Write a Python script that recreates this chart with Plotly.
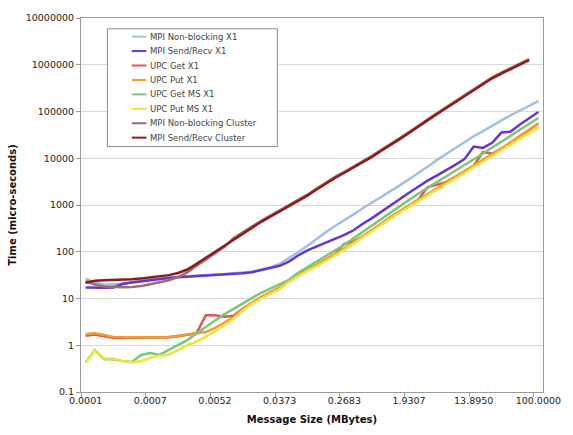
import plotly.graph_objects as go

# Message sizes (MBytes), 50 log-spaced categories
sizes = [0.0001, 0.0001, 0.0002, 0.0002, 0.0003, 0.0004, 0.0005, 0.0007, 0.0010, 0.0013,
         0.0017, 0.0022, 0.0029, 0.0039, 0.0052, 0.0069, 0.0091, 0.0121, 0.0160, 0.0212,
         0.0281, 0.0373, 0.0494, 0.0655, 0.0869, 0.1151, 0.1526, 0.2024, 0.2683, 0.3556,
         0.4715, 0.6251, 0.8286, 1.0985, 1.4563, 1.9307, 2.5595, 3.3932, 4.4984, 5.9636,
         7.9060, 10.4811, 13.8950, 18.4207, 24.4205, 32.3746, 42.9193, 56.8987, 75.4312, 100.0000]
label_idx = [0, 7, 14, 21, 28, 35, 42, 49]

mpi_nb_x1 = [26.9, 21.9, 20.0, 20.0, 20.9, 22.4, 24.0, 25.7, 26.9, 28.2,
             29.2, 29.9, 30.9, 31.6, 32.7, 33.5, 34.7, 35.5, 37.2, 41.7,
             46.8, 55.0, 72.4, 97.7, 135, 191, 263, 355, 468, 631,
             851, 1122, 1479, 1995, 2630, 3548, 4786, 6607, 9120, 12300,
             16600, 22390, 29510, 38020, 50120, 64570, 83180, 104700, 131800, 166000]
mpi_sr_x1 = [17.1, 16.9, 16.9, 17.2, 20.4, 22.1, 23.4, 25.1, 26.3, 27.5,
             28.5, 29.2, 29.9, 30.9, 31.6, 32.7, 33.9, 34.7, 36.3, 40.7,
             44.7, 50.1, 61.7, 83.2, 107, 129, 155, 186, 229, 288,
             398, 525, 724, 1000, 1349, 1820, 2455, 3311, 4266, 5495,
             7244, 9550, 17780, 16600, 21380, 35480, 37150, 52480, 72440, 97720]
upc_get_x1 = [1.60, 1.70, 1.55, 1.45, 1.43, 1.43, 1.43, 1.43, 1.45, 1.48,
              1.55, 1.70, 1.80, 4.37, 4.37, 4.07, 4.27, 6.03, 8.13, 10.7,
              13.5, 17.0, 24.5, 32.4, 41.7, 52.5, 67.6, 89.1, 148, 166,
              214, 288, 398, 550, 741, 977, 1288, 2399, 2692, 3090,
              3981, 5248, 6918, 13490, 12590, 15850, 21880, 29510, 40740, 55590]
upc_put_x1 = [1.75, 1.80, 1.66, 1.51, 1.48, 1.46, 1.46, 1.48, 1.46, 1.50,
              1.58, 1.72, 1.82, 1.91, 2.34, 3.09, 3.98, 5.89, 8.13, 10.7,
              13.5, 17.0, 24.5, 32.4, 41.7, 52.5, 67.6, 89.1, 117, 158,
              214, 288, 398, 550, 741, 977, 1288, 1698, 2291, 3020,
              3981, 5248, 6918, 9120, 12020, 16220, 21880, 29510, 40740, 55590]
upc_get_ms_x1 = [0.43, 0.79, 0.50, 0.50, 0.46, 0.44, 0.62, 0.68, 0.62, 0.79,
                 1.02, 1.29, 1.78, 2.51, 3.39, 4.57, 6.03, 7.94, 10.2, 13.2,
                 16.2, 20.0, 25.1, 35.5, 46.8, 60.3, 79.4, 105, 141, 195,
                 269, 363, 501, 708, 955, 1288, 1738, 2344, 3090, 4074,
                 5370, 7244, 9550, 12590, 16980, 22390, 30200, 40740, 53700, 72440]
upc_put_ms_x1 = [0.43, 0.79, 0.52, 0.52, 0.46, 0.43, 0.46, 0.54, 0.60, 0.63,
                 0.79, 1.00, 1.20, 1.51, 2.00, 2.69, 3.63, 5.50, 7.59, 10.0,
                 12.6, 15.8, 22.9, 30.2, 38.9, 49.0, 63.1, 83.2, 110, 148,
                 200, 269, 372, 513, 692, 912, 1202, 1585, 2138, 2818,
                 3715, 4898, 6457, 8511, 11220, 14790, 19500, 26300, 34670, 45710]
mpi_nb_cluster = [23.6, 20.0, 18.0, 17.5, 17.5, 17.7, 18.5, 20.2, 21.9, 24.5,
                  28.8, 36.3, 50.1, 67.6, 91.2, 126, 195, 263, 347, 457,
                  589, 759, 977, 1259, 1660, 2239, 3020, 3981, 5129, 6607,
                  8511, 11220, 15140, 19950, 26920, 36310, 50120, 67610, 91200, 123000,
                  166000, 223900, 302000, 398100, 537000, 676100, 851100, 1072000, 1318000]
mpi_sr_cluster = [21.7, 24.0, 24.5, 24.8, 25.1, 25.7, 26.9, 28.2, 29.5, 31.6,
                  35.1, 41.7, 55.0, 74.1, 100, 135, 186, 251, 331, 437,
                  562, 724, 933, 1202, 1585, 2138, 2884, 3802, 4898, 6310,
                  8128, 10720, 14450, 19050, 25700, 34670, 47860, 64570, 87100, 117500,
                  158500, 213800, 288400, 380200, 512900, 645700, 812800, 1023000, 1259000]

series = [
    ("MPI Non-blocking X1", mpi_nb_x1, "#9fc0e4"),
    ("MPI Send/Recv X1", mpi_sr_x1, "#6236d6"),
    ("UPC Get X1", upc_get_x1, "#e2564e"),
    ("UPC Put X1", upc_put_x1, "#f29a2e"),
    ("UPC Get MS X1", upc_get_ms_x1, "#78c878"),
    ("UPC Put MS X1", upc_put_ms_x1, "#eee43c"),
    ("MPI Non-blocking Cluster", mpi_nb_cluster, "#a06c6c"),
    ("MPI Send/Recv Cluster", mpi_sr_cluster, "#8c1c1c"),
]

y_ticks = [0.1, 1, 10, 100, 1000, 10000, 100000, 1000000, 10000000]
y_ticktext = ["0.1", "1", "10", "100", "1000", "10000", "100000", "1000000", "10000000"]

fig = go.Figure()
for name, vals, color in series:
    fig.add_trace(go.Scatter(
        x=list(range(len(vals))), y=vals, mode="lines", name=name,
        line=dict(color=color, width=2.5), showlegend=False))

W, H = 573, 435
ml, mr, mt, mb = 80, 20, 12, 42
pw, ph = W - ml - mr, H - mt - mb

def px(xp):
    return (xp - ml) / pw

def py(yp):
    return (H - mb - yp) / ph

tick_font = dict(family="DejaVu Sans", size=9.5, color="#222222")

fig.update_layout(
    width=W, height=H,
    margin=dict(l=ml, r=mr, t=mt, b=mb),
    paper_bgcolor="white", plot_bgcolor="white",
    xaxis=dict(
        type="linear", range=[-0.5, len(sizes) - 0.5],
        tickmode="array", tickvals=label_idx,
        ticktext=["%.4f" % sizes[i] for i in label_idx],
        ticks="", showgrid=False, zeroline=False,
        showline=True, linecolor="#9a9a9a", linewidth=1, mirror=True,
        tickfont=tick_font,
        minor=dict(tickmode="array", tickvals=[i - 0.5 for i in label_idx],
                   ticks="outside", ticklen=4, tickcolor="#9a9a9a", showgrid=False),
        title=dict(text="Message Size (MBytes)", standoff=10,
                   font=dict(family="DejaVu Sans", size=10, color="#111111", weight="bold")),
    ),
    yaxis=dict(
        type="log", range=[-1, 7],
        tickmode="array", tickvals=y_ticks, ticktext=y_ticktext,
        ticks="outside", ticklen=4, tickcolor="#9a9a9a",
        showgrid=True, gridcolor="#d9d9d9", gridwidth=1, zeroline=False,
        showline=True, linecolor="#9a9a9a", linewidth=1, mirror=True,
        tickfont=tick_font,
        title=dict(text="Time (micro-seconds)", standoff=7,
                   font=dict(family="DejaVu Sans", size=10, color="#111111", weight="bold")),
    ),
    showlegend=False,
)

# Legend box drawn as shapes + text annotations
lx0, lx1, ly0, ly1 = 107, 281, 23, 143
fig.add_shape(type="rect", xref="paper", yref="paper",
              x0=px(lx0), x1=px(lx1), y0=py(ly1), y1=py(ly0),
              line=dict(color="#8a8a8a", width=1), fillcolor="white", layer="above")
row0, rstep = 31, 14.7
for k, (name, vals, color) in enumerate(series):
    yy = row0 + k * rstep
    fig.add_shape(type="line", xref="paper", yref="paper",
                  x0=px(132), x1=px(147), y0=py(yy), y1=py(yy),
                  line=dict(color=color, width=2), layer="above")
    fig.add_annotation(xref="paper", yref="paper", x=px(148.5), y=py(yy),
                       xanchor="left", yanchor="middle", showarrow=False,
                       text=name, font=dict(family="DejaVu Sans", size=8.5, color="#444444"))

fig.write_html("out.html")
